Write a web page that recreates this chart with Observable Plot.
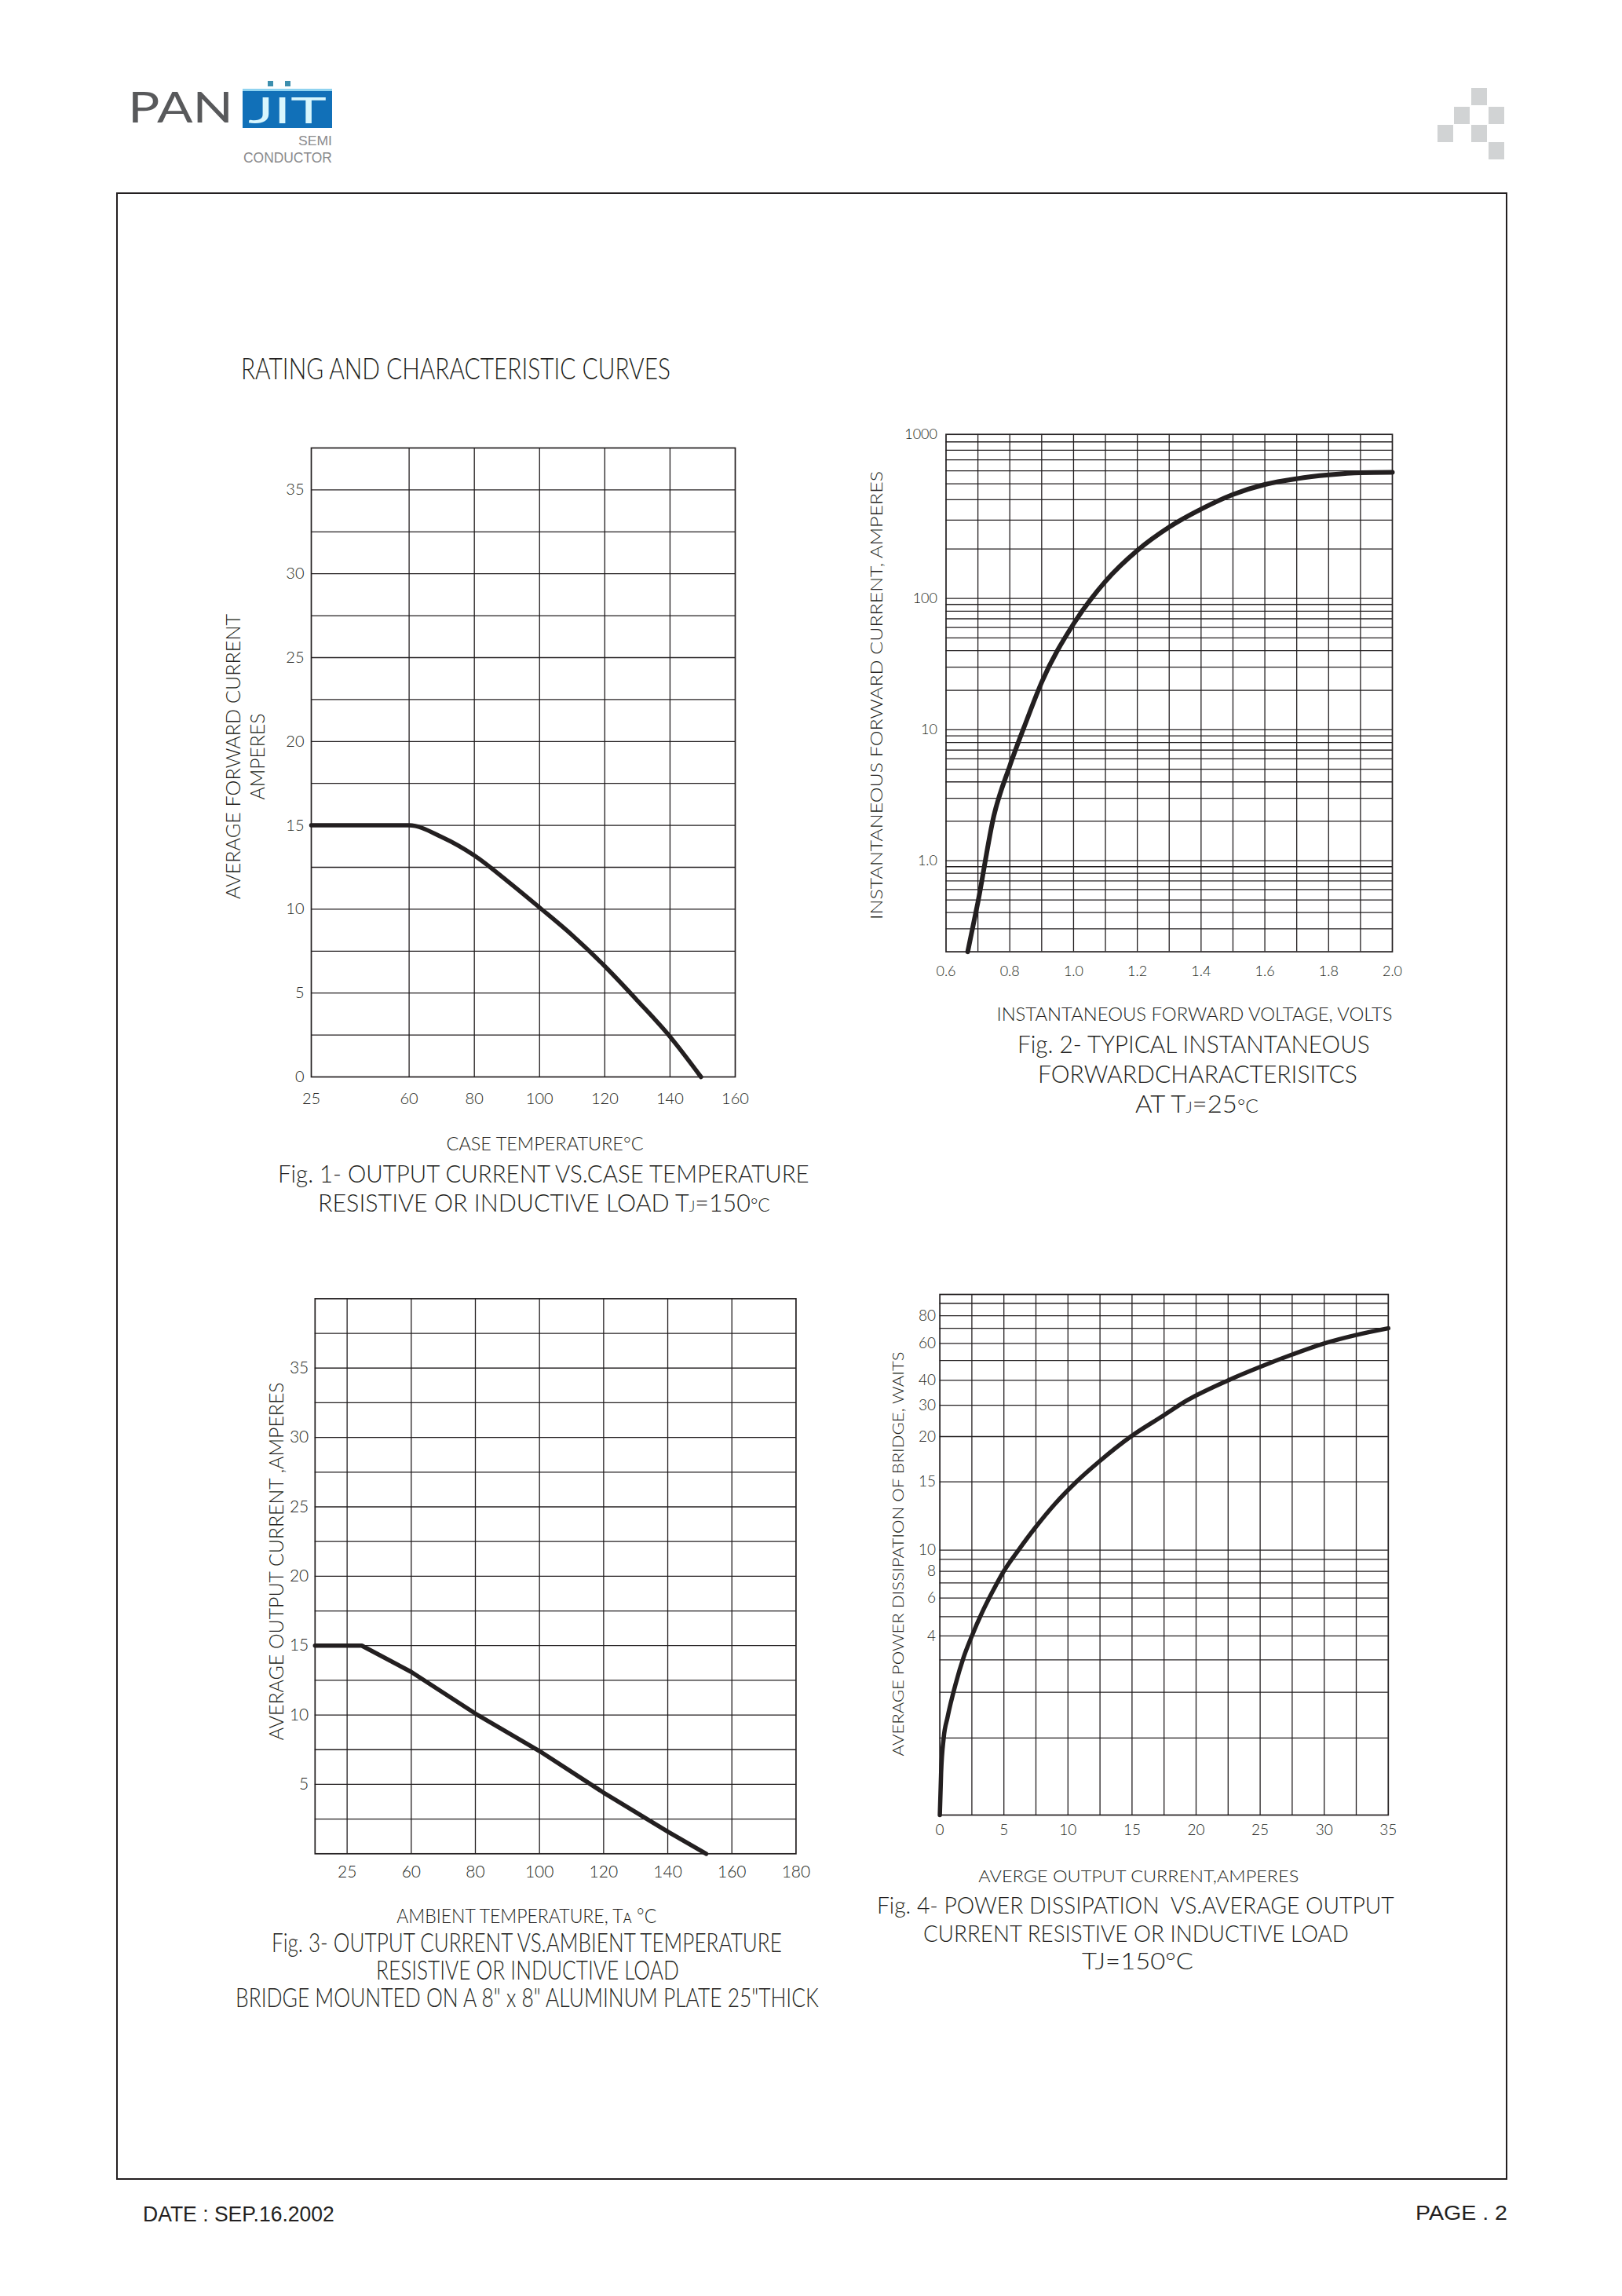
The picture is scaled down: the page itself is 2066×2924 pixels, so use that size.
<!DOCTYPE html>
<html><head><meta charset="utf-8">
<script src="https://cdn.jsdelivr.net/npm/d3@7"></script>
<script src="https://cdn.jsdelivr.net/npm/@observablehq/plot@0.6"></script>
<style>
html,body{margin:0;padding:0;background:#fff;}
#page{position:relative;width:2066px;height:2924px;background:#fff;overflow:hidden;}
.fig{position:absolute;z-index:1;}
#overlay{position:absolute;left:0;top:0;z-index:2;pointer-events:none;}
</style></head>
<body><div id="page"></div>
<script>
const INK = "#231f20";
const FONT = "Lato, 'Open Sans', sans-serif";

// ---------- Fig. 1 : output current vs case temperature ----------
const fig1CaseTemp = [25, 60, 70, 80, 90, 100, 110, 120, 130, 140, 149.5];
const fig1Current  = [15, 15, 14.3, 13.2, 11.7, 10.1, 8.45, 6.6, 4.55, 2.4, 0];
const fig1XBreaks  = [25, 60, 160];
const fig1XTicks   = [25, 60, 80, 100, 120, 140, 160];
const fig1XGrid    = [60, 80, 100, 120, 140];
const fig1YTicks   = [0, 5, 10, 15, 20, 25, 30, 35];

// ---------- Fig. 2 : forward characteristics ----------
const fig2Voltage = [0.668, 0.7, 0.75, 0.8, 0.85, 0.9, 1.0, 1.1, 1.2, 1.3, 1.4, 1.5, 1.6, 1.7, 1.8, 1.9, 2.0];
const fig2Current = [0.2, 0.48, 2.2, 5.3, 11.3, 23, 64, 127, 196, 272, 350, 430, 495, 537, 566, 584, 587];
const fig2YBreaks = [0.2, 1, 10, 100, 1000];
const fig2XTicks  = [0.6, 0.8, 1.0, 1.2, 1.4, 1.6, 1.8, 2.0];
const fig2YTicks  = [1, 10, 100, 1000];

// ---------- Fig. 3 : output current vs ambient temperature ----------
const fig3AmbTemp = [15, 33, 60, 80, 100, 120, 140, 152];
const fig3Current = [15, 15, 13.1, 10.1, 7.4, 4.4, 1.6, 0];
const fig3XBreaks = [15, 25, 60, 180];
const fig3XTicks  = [25, 60, 80, 100, 120, 140, 160, 180];
const fig3XGrid   = [25, 60, 80, 100, 120, 140, 160];
const fig3YTicks  = [5, 10, 15, 20, 25, 30, 35];

// ---------- Fig. 4 : power dissipation vs output current ----------
const fig4Current = [0, 0.1, 0.3, 0.6, 1.23, 1.85, 2.5, 3.28, 4.1, 4.98, 6.14, 7.47, 9.0, 10.65, 12.44, 14.9, 17.4, 19.24, 22.5, 25, 27.5, 30, 32.5, 35];
const fig4Power   = [0, 0.55, 1.0, 1.45, 2.25, 3.1, 4.0, 5.2, 6.4, 8.0, 10.0, 11.67, 13.4, 15, 17.25, 20, 26.6, 31.8, 40, 46.8, 53.5, 60, 65.6, 70];
const fig4YLevels = [0, 1, 2, 3, 4, 5, 6, 7, 8, 9, 10, 15, 20, 30, 40, 50, 60, 70, 80, 90, 100];
const fig4XTicks  = [0, 5, 10, 15, 20, 25, 30, 35];
const fig4YTicks  = [4, 6, 8, 10, 15, 20, 30, 40, 60, 80];

// ---------- layout (scale break positions as fractions of the frame) ----------
const fig1XFrac = [0, 1.5 / 6.5, 1];
const fig2YFrac = [0, 0.176, 0.429, 0.683, 1];
const fig3XFrac = [0, 0.5 / 7.5, 1.5 / 7.5, 1];
const fig4YFrac = [0, .148, .236, .298, .344, .381, .417, .446, .468, .491, .509, .640, .727, .787, .835, .873, .906, .935, .959, .983, 1];

const page = document.getElementById("page");
const svgNS = "http://www.w3.org/2000/svg";

function style(size) {
  return {fontFamily: FONT, fontSize: size + "px", fontWeight: "300", color: INK, background: "white", overflow: "visible"};
}
function title(text, anchor, dx, dy, rotate, size) {
  return Plot.text([text], {text: d => d, frameAnchor: anchor, dx, dy, rotate, fontSize: size, fill: INK, textAnchor: "middle", lineAnchor: "middle"});
}
function fit(svg, specs) {
  const texts = Array.from(svg.querySelectorAll("text"));
  for (const s of specs) {
    const t = texts.find(el => el.textContent === s.text);
    if (!t) continue;
    t.setAttribute("textLength", s.length);
    t.setAttribute("lengthAdjust", "spacingAndGlyphs");
  }
}
function mount(svg, L) {
  const d = document.createElement("div");
  d.className = "fig";
  d.style.left = L.left + "px"; d.style.top = L.top + "px";
  d.style.width = L.width + "px"; d.style.height = L.height + "px";
  d.appendChild(svg);
  page.appendChild(d);
}
const grid = {stroke: INK, strokeWidth: 1.3};
const frame = () => Plot.frame({stroke: INK, strokeWidth: 1.7});

// ===== Fig 1 =====
{
  const L = {left: 250, top: 540, width: 720, height: 940, ml: 146, mr: 34, mt: 30, mb: 109};
  const pw = L.width - L.ml - L.mr;
  const svg = Plot.plot({
    width: L.width, height: L.height,
    marginLeft: L.ml, marginRight: L.mr, marginTop: L.mt, marginBottom: L.mb,
    style: style(20),
    x: {type: "linear", domain: fig1XBreaks, range: fig1XFrac.map(f => L.ml + f * pw), ticks: fig1XTicks, tickSize: 0, tickPadding: 20, label: null},
    y: {type: "linear", domain: [0, 37.5], ticks: fig1YTicks, tickSize: 0, tickPadding: 9, label: null},
    marks: [
      Plot.ruleX(fig1XGrid, grid),
      Plot.ruleY(d3.range(2.5, 37.5, 2.5), grid),
      frame(),
      Plot.line(fig1CaseTemp.map((t, i) => ({t, a: fig1Current[i]})), {x: "t", y: "a", curve: "monotone-x", stroke: INK, strokeWidth: 5.5}),
      title("AVERAGE FORWARD CURRENT", "left", -99, -7.5, -90, 25),
      title("AMPERES", "left", -68, -7.5, -90, 25),
      title("CASE TEMPERATURE°C", "bottom", 27.5, 86, 0, 23)
    ]
  });
  fit(svg, [
    {text: "AVERAGE FORWARD CURRENT", length: 363},
    {text: "AMPERES", length: 110},
    {text: "CASE TEMPERATURE°C", length: 251}
  ]);
  mount(svg, L);
}

// ===== Fig 2 =====
{
  const L = {left: 1090, top: 530, width: 720, height: 790, ml: 114.5, mr: 37, mt: 22.7, mb: 108.4};
  const ph = L.height - L.mt - L.mb;
  const yGrid = [];
  for (const dec of [0.1, 1, 10, 100]) for (let k = 1; k <= 9; k++) {
    const v = +(dec * k).toPrecision(3);
    if (v > 0.2 && v < 1000) yGrid.push(v);
  }
  const svg = Plot.plot({
    width: L.width, height: L.height,
    marginLeft: L.ml, marginRight: L.mr, marginTop: L.mt, marginBottom: L.mb,
    style: style(18),
    x: {type: "linear", domain: [0.6, 2.0], ticks: fig2XTicks, tickFormat: d => d.toFixed(1), tickSize: 0, tickPadding: 18, label: null},
    y: {type: "log", domain: fig2YBreaks, range: fig2YFrac.map(f => (L.height - L.mb) - f * ph), ticks: fig2YTicks, tickFormat: d => d === 1 ? "1.0" : String(d), tickSize: 0, tickPadding: 11, label: null},
    marks: [
      Plot.ruleX(d3.range(7, 20).map(d => d / 10), grid),
      Plot.ruleY(yGrid, grid),
      frame(),
      Plot.line(fig2Voltage.map((v, i) => ({v, a: fig2Current[i]})), {x: "v", y: "a", curve: "monotone-x", stroke: INK, strokeWidth: 6}),
      title("INSTANTANEOUS FORWARD CURRENT, AMPERES", "left", -87.5, 2.8, -90, 21),
      title("INSTANTANEOUS FORWARD VOLTAGE, VOLTS", "bottom", 32.2, 80.4, 0, 24)
    ]
  });
  fit(svg, [
    {text: "INSTANTANEOUS FORWARD CURRENT, AMPERES", length: 571},
    {text: "INSTANTANEOUS FORWARD VOLTAGE, VOLTS", length: 504}
  ]);
  mount(svg, L);
}

// ===== Fig 3 =====
{
  const L = {left: 260, top: 1630, width: 800, height: 830, ml: 140.8, mr: 46.6, mt: 23.4, mb: 99.7};
  const pw = L.width - L.ml - L.mr;
  const svg = Plot.plot({
    width: L.width, height: L.height,
    marginLeft: L.ml, marginRight: L.mr, marginTop: L.mt, marginBottom: L.mb,
    style: style(21),
    x: {type: "linear", domain: fig3XBreaks, range: fig3XFrac.map(f => L.ml + f * pw), ticks: fig3XTicks, tickSize: 0, tickPadding: 15, label: null},
    y: {type: "linear", domain: [0, 40], ticks: fig3YTicks, tickSize: 0, tickPadding: 8, label: null},
    marks: [
      Plot.ruleX(fig3XGrid, grid),
      Plot.ruleY(d3.range(2.5, 40, 2.5), grid),
      frame(),
      Plot.line(fig3AmbTemp.map((t, i) => ({t, a: fig3Current[i]})), {x: "t", y: "a", stroke: INK, strokeWidth: 5.5}),
      title("AVERAGE OUTPUT CURRENT ,AMPERES", "left", -48.8, -19, -90, 25),
      title("AMBIENT TEMPERATURE, Tᴀ °C", "bottom", -36.9, 80, 0, 25)
    ]
  });
  fit(svg, [
    {text: "AVERAGE OUTPUT CURRENT ,AMPERES", length: 456},
    {text: "AMBIENT TEMPERATURE, Tᴀ °C", length: 331}
  ]);
  mount(svg, L);
}

// ===== Fig 4 =====
{
  const L = {left: 1090, top: 1630, width: 720, height: 780, ml: 106.6, mr: 42.2, mt: 18, mb: 99};
  const ph = L.height - L.mt - L.mb;
  const svg = Plot.plot({
    width: L.width, height: L.height,
    marginLeft: L.ml, marginRight: L.mr, marginTop: L.mt, marginBottom: L.mb,
    style: style(19),
    x: {type: "linear", domain: [0, 35], ticks: fig4XTicks, tickSize: 0, tickPadding: 12, label: null},
    y: {type: "linear", domain: fig4YLevels, range: fig4YFrac.map(f => (L.height - L.mb) - f * ph), ticks: fig4YTicks, tickSize: 0, tickPadding: 5, label: null},
    marks: [
      Plot.ruleX(d3.range(1, 14).map(k => k * 2.5), grid),
      Plot.ruleY(fig4YLevels.slice(1, -1), grid),
      frame(),
      Plot.line(fig4Current.map((c, i) => ({c, p: fig4Power[i]})), {x: "c", y: "p", curve: "monotone-x", stroke: INK, strokeWidth: 5.5}),
      title("AVERAGE POWER DISSIPATION OF BRIDGE, WAITS", "left", -52, -1, -90, 19),
      title("AVERGE OUTPUT CURRENT,AMPERES", "bottom", -32.4, 79, 0, 21.5)
    ]
  });
  fit(svg, [
    {text: "AVERAGE POWER DISSIPATION OF BRIDGE, WAITS", length: 515},
    {text: "AVERGE OUTPUT CURRENT,AMPERES", length: 408}
  ]);
  mount(svg, L);
}

// ===== page furniture (logo, border, captions, footer) =====
const ov = document.createElementNS(svgNS, "svg");
ov.setAttribute("id", "overlay");
ov.setAttribute("width", 2066); ov.setAttribute("height", 2924);
page.appendChild(ov);

function el(tag, attrs, parent = ov) {
  const e = document.createElementNS(svgNS, tag);
  for (const k in attrs) e.setAttribute(k, attrs[k]);
  parent.appendChild(e);
  return e;
}
// text scaled horizontally to the measured width of the reference
function caption(c) {
  const t = el("text", {
    x: 0, y: 0, "font-size": c.size,
    "font-family": c.family || FONT, "font-weight": c.weight || 300,
    fill: c.fill || INK, style: "white-space:pre"
  });
  for (const p of c.parts) {
    const s = el("tspan", {}, t);
    if (Array.isArray(p)) { s.textContent = p[0]; s.setAttribute("font-size", c.size * p[1]); }
    else s.textContent = p;
  }
  const natural = t.getComputedTextLength();
  const sx = c.w && natural > 0 ? c.w / natural : 1;
  t.setAttribute("transform", `translate(${c.x},${c.y + 0.36 * c.size}) scale(${sx},1)`);
  return t;
}

// border
el("rect", {x: 149, y: 246, width: 1770, height: 2529, fill: "none", stroke: INK, "stroke-width": 2});

// logo
caption({x: 163, y: 137, size: 54, w: 134, weight: 400, fill: "#58595b", parts: ["PAN"]});
el("rect", {x: 309, y: 113, width: 114, height: 50, fill: "#1170b8"});
el("rect", {x: 309, y: 113, width: 114, height: 3, fill: "#8fd3f0"});
caption({x: 316, y: 140, size: 46, w: 100, weight: 400, fill: "#d8f6fd", parts: ["JIT"]});
el("rect", {x: 341, y: 103, width: 7, height: 7, fill: "#3d8fae"});
el("rect", {x: 363, y: 103, width: 7, height: 7, fill: "#3d8fae"});
caption({x: 380, y: 178.5, size: 17, w: 43, weight: 400, fill: "#8a8a8c", family: "'Liberation Sans', Arial, sans-serif", parts: ["SEMI"]});
caption({x: 310, y: 200.5, size: 19, w: 113, weight: 400, fill: "#8a8a8c", family: "'Liberation Sans', Arial, sans-serif", parts: ["CONDUCTOR"]});

// corner squares
for (const [x, y] of [[1874, 112], [1852, 136], [1896, 136], [1831, 159], [1874, 159], [1896, 181]]) {
  el("rect", {x, y, width: 20, height: 22, fill: "#d1d3d4"});
}

const captions = [
  {x: 307, w: 547, y: 470, size: 37, parts: ["RATING AND CHARACTERISTIC CURVES"]},
  {x: 354, w: 677, y: 1494, size: 32, parts: ["Fig. 1- OUTPUT CURRENT VS.CASE TEMPERATURE"]},
  {x: 405, w: 576, y: 1531, size: 32, parts: ["RESISTIVE OR INDUCTIVE LOAD T", ["J", 0.6], "=150", ["°C", 0.75]]},
  {x: 1296, w: 449, y: 1329, size: 32, parts: ["Fig. 2- TYPICAL INSTANTANEOUS"]},
  {x: 1322, w: 407, y: 1367, size: 32, parts: ["FORWARDCHARACTERISITCS"]},
  {x: 1446, w: 157, y: 1405, size: 32, parts: ["AT T", ["J", 0.6], "=25", ["°C", 0.75]]},
  {x: 346, w: 650, y: 2474, size: 33, parts: ["Fig. 3- OUTPUT CURRENT VS.AMBIENT TEMPERATURE"]},
  {x: 479, w: 386, y: 2509, size: 33, parts: ["RESISTIVE OR INDUCTIVE LOAD"]},
  {x: 300, w: 743, y: 2544, size: 33, parts: ["BRIDGE MOUNTED ON A 8\" x 8\" ALUMINUM PLATE 25\"THICK"]},
  {x: 1117, w: 659, y: 2427, size: 29, parts: ["Fig. 4- POWER DISSIPATION  VS.AVERAGE OUTPUT"]},
  {x: 1176, w: 542, y: 2463, size: 29, parts: ["CURRENT RESISTIVE OR INDUCTIVE LOAD"]},
  {x: 1378, w: 142, y: 2498, size: 29, parts: ["TJ=150°C"]}
];
captions.forEach(caption);

// footer
caption({x: 182, y: 2819, size: 28, w: 244, weight: 400, family: "'Liberation Sans', Arial, sans-serif", parts: ["DATE : SEP.16.2002"]});
caption({x: 1803, y: 2817.5, size: 26, w: 117, weight: 400, family: "'Liberation Sans', Arial, sans-serif", parts: ["PAGE . 2"]});
</script>
</body></html>
